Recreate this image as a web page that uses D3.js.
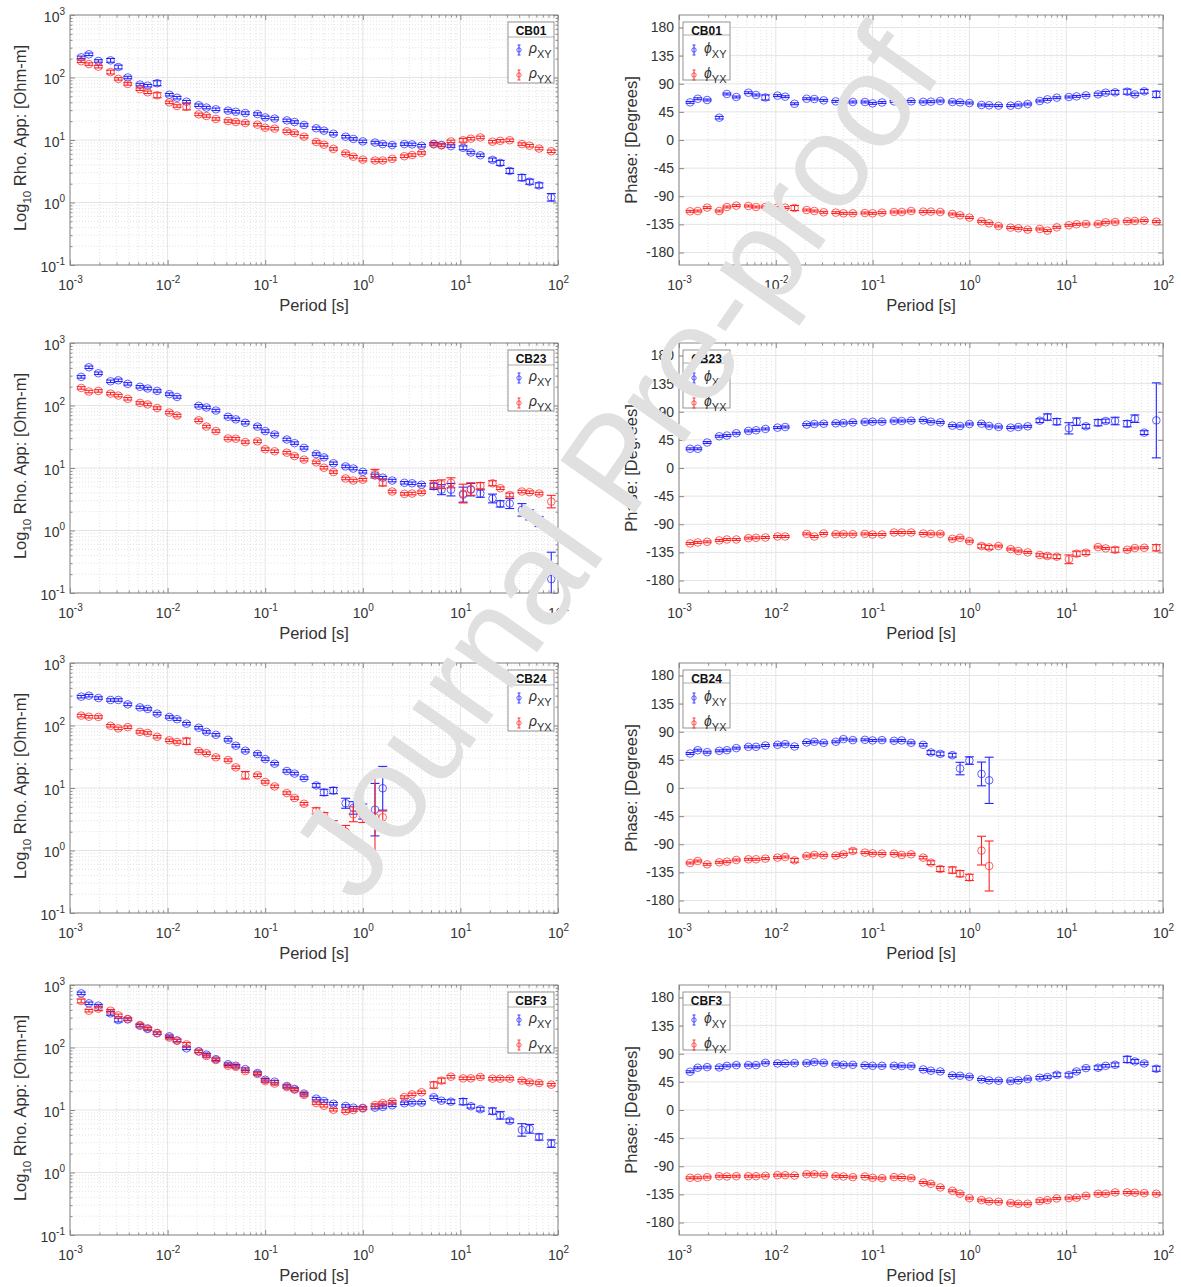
<!DOCTYPE html>
<html>
<head>
<meta charset="utf-8">
<script src="https://cdn.jsdelivr.net/npm/d3@7"></script>
<style>
body { margin: 0; background: #fff; }
svg { font-family: "Liberation Sans", Arial, Helvetica, sans-serif; }
</style>
</head>
<body>
<svg width="1181" height="1287"></svg>
<script>
// MT sounding curves, 4 stations: apparent resistivity (left) and phase (right)

var periods = [0.001302, 0.0015625, 0.001953, 0.002604, 0.003125, 0.003906, 0.005208, 0.00625, 0.0078125,
  0.010417, 0.0125, 0.015625, 0.020833, 0.025, 0.03125, 0.041667, 0.05, 0.0625, 0.083333,
  0.1, 0.125, 0.166667, 0.2, 0.25, 0.333333, 0.4, 0.5, 0.666667, 0.8,
  1, 1.333333, 1.6, 2, 2.666667, 3.2, 4, 5.333333, 6.4, 8,
  10.666667, 12.8, 16, 21.333333, 25.6, 32, 42.666667, 51.2, 64, 85.333333];

var xTickExps = [-3, -2, -1, 0, 1, 2];
var rhoTickExps = [-1, 0, 1, 2, 3];
var phaseTicks = [-180, -135, -90, -45, 0, 45, 90, 135, 180];
var minorMults = [2, 3, 4, 5, 6, 7, 8, 9];

// ---- CB01
var cb01RhoXY = [210,235,184,188,147,100,77,74,81,53, 47.5,41,36,33,31,29.5,28.3,27,26,23, 22,20.6,19.4,17.4,15.4,14.1,12.6,11.3,10.4,9.5, 9.1,8.6,8.3,8.6,8.5,8.1,8.7,8.3,8.0,7.5, 6.3,5.7,4.8,4.3,3.2,2.5,2.15,1.88,1.21];
var cb01RhoXYErr = [.02,.02,.02,.03,.03,.02,.02,.02,.04,.02, .02,.02,.02,.02,.02,.02,.02,.02,.02,.02, .02,.02,.02,.02,.02,.02,.02,.02,.02,.02, .02,.02,.02,.02,.02,.02,.02,.02,.02,.03, .02,.02,.03,.04,.04,.05,.04,.04,.06];
var cb01RhoYX = [182,164,149,122,95,79,65,58,52,40, 35,34,25.7,24.2,21.7,20.1,19.4,18.7,17.6,15.7, 15.2,13.8,12.9,11.3,9.3,8.4,7.2,6.1,5.4,4.85, 4.7,4.7,5.0,5.5,5.75,6.2,8.5,8.2,9.5,9.9, 10.5,11.0,9.4,9.7,9.9,8.6,8.1,7.3,6.6];
var cb01RhoYXErr = [.02,.02,.02,.03,.02,.02,.02,.02,.04,.02, .02,.05,.02,.02,.02,.02,.02,.02,.02,.02, .02,.02,.02,.02,.02,.02,.02,.02,.02,.02, .02,.02,.02,.02,.02,.02,.02,.02,.02,.03, .02,.02,.02,.02,.02,.02,.02,.02,.02];
var cb01PhiXY = [60.2,66,64,35.7,73.6,68.8,75.7,72,68,71, 69.3,58,66,65.6,63.4,61.8,60.8,60.8,60.8,58.6, 60,61.8,61.8,61.8,61,61.3,62.4,60.8,60.2,59.2, 56,55.5,55,55,56,57.6,62.4,65,67.7,68.8, 69.8,71.4,73,75.7,76.2,77.3,73,77.8,73];
var cb01PhiXYErr = [1.5,1.5,1.5,2,1.5,1.5,1.5,1.5,4,1.5, 1.5,1.5,1.5,1.5,1.5,1.5,1.5,1.5,1.5,1.5, 1.5,1.5,1.5,1.5,1.5,1.5,1.5,1.5,1.5,1.5, 1.5,1.5,1.5,1.5,1.5,1.5,1.5,1.5,1.5,1.5, 1.5,1.5,2,2,3,4,2,3,5];
var cb01PhiYX = [-114.1,-113.6,-108.2,-113.6,-107.2,-105,-105.6,-107.2,-107.2,-108.2, -108.2,-108.8,-112,-113.6,-115.7,-116.2,-117.3,-117.3,-116.8,-117.3, -116.2,-115.2,-115.2,-113.6,-114.6,-114.6,-115.2,-118.4,-120.5,-124.2, -130.1,-133.3,-137.6,-140.2,-141.3,-143.4,-142.4,-145,-139.7,-136.5, -134.9,-134.4,-134.4,-131.7,-131.2,-130.1,-129.6,-129,-130.6];
var cb01PhiYXErr = [1.5,1.5,1.5,1.5,1.5,1.5,1.5,1.5,1.5,1.5, 1.5,4,1.5,1.5,1.5,1.5,1.5,1.5,1.5,1.5, 1.5,1.5,1.5,1.5,1.5,1.5,1.5,1.5,1.5,1.5, 1.5,1.5,1.5,1.5,1.5,1.5,1.5,1.5,1.5,1.5, 1.5,1.5,1.5,1.5,1.5,1.5,1.5,1.5,1.5];

// ---- CB23
var cb23RhoXY = [287,409,328,244,253,222,199,187,171,152, 137,null,99,93,83,66,60,53,46,39, 34.4,28.6,25,21,16.7,14.8,11.9,10.6,9.8,8.7, 7.6,7.0,6.3,5.8,5.7,5.4,5.1,4.5,4.5,3.75, 4.5,3.9,3.25,2.67,2.7,2.14,1.78,1.39,0.167];
var cb23RhoXYErr = [.02,.02,.02,.02,.02,.02,.02,.02,.02,.02, .02,0,.02,.02,.02,.02,.02,.02,.02,.02, .02,.02,.02,.02,.02,.02,.02,.02,.02,.02, .02,.02,.02,.02,.02,.02,.05,.08,.1,.12, .1,.06,.07,.05,.08,.1,.08,.08,.43];
var cb23RhoYX = [191,167,171,155,144,128,110,104,91,77, 69,null,58,46,39,29.7,29.4,26,26.7,20, 18.5,17.6,15.5,13.6,12.3,10.1,8.6,6.8,6.3,6.5, 8.1,5.8,4.2,3.85,3.9,4.1,5.5,5.5,5.8,3.9, 4.6,5.2,5.7,4.75,3.7,4.2,4.1,3.9,2.9];
var cb23RhoYXErr = [.02,.02,.02,.02,.02,.02,.02,.02,.02,.02, .02,0,.02,.02,.02,.02,.02,.02,.02,.02, .02,.02,.02,.02,.02,.02,.02,.02,.02,.02, .07,.05,.02,.02,.02,.02,.06,.07,.08,.15, .1,.05,.04,.02,.03,.02,.02,.02,.1];
var cb23PhiXY = [30.7,30.7,40.8,50.8,51.9,55.6,59.3,60.4,62.5,64.6, 65.6,null,69.4,70.4,70.9,71.5,72,73,73.6,74.1, 74.1,75.2,75.2,75.7,76.2,74.1,73,67.8,67.2,70.4, 70.9,67.2,65.6,64.6,65.6,66.7,75.7,81.5,74.1,63.5, 74.1,66.7,72.5,75.2,75.2,70.9,78.9,56.6,76.2];
var cb23PhiXYErr = [1.5,1.5,1.5,1.5,1.5,1.5,1.5,1.5,1.5,1.5, 1.5,0,1.5,1.5,1.5,1.5,1.5,1.5,1.5,1.5, 1.5,1.5,1.5,1.5,1.5,1.5,1.5,1.5,1.5,1.5, 1.5,1.5,1.5,1.5,1.5,1.5,3,5,5,9, 6,3,5,3,6,5,6,3,60];
var cb23PhiYX = [-120.7,-119.1,-118.1,-115.9,-114.4,-114.4,-112.2,-111.7,-111.2,-109.6, -109.6,null,-105.4,-109.6,-104.8,-105.9,-105.9,-105.9,-105.4,-106.4, -106.4,-103.2,-103.2,-103.2,-104.8,-105.4,-105.4,-113.3,-111.7,-117, -124.9,-127.1,-124.9,-129.7,-132.9,-135,-139.2,-140.8,-141.9,-146.1, -137.1,-135.5,-126.5,-128.6,-130.8,-130.8,-128.1,-127.6,-127.6];
var cb23PhiYXErr = [1.5,1.5,1.5,1.5,1.5,1.5,1.5,1.5,1.5,1.5, 1.5,0,1.5,1.5,1.5,1.5,1.5,1.5,1.5,1.5, 1.5,1.5,1.5,1.5,1.5,1.5,1.5,1.5,1.5,1.5, 3,3,1.5,1.5,1.5,1.5,2,3,3,7, 4,3,1.5,1.5,4,1.5,1.5,1.5,5];

// ---- CB24 (ends at 1.6 s)
var cb24RhoXY = [289,300,275,256,256,218,195,184,155,137, 126,107,92,79,71,59,47.5,39.5,35,29, 24.5,18.7,17,14.4,11,8.5,9.1,5.7,4.8,4.2, 4.5,9.9];
var cb24RhoXYErr = [.02,.02,.02,.02,.02,.02,.02,.02,.02,.02, .02,.02,.02,.02,.02,.02,.02,.02,.02,.02, .02,.02,.02,.02,.03,.05,.05,.08,.1,.12, .42,.35];
var cb24RhoYX = [144,138,137,99,90,94,79,76,66,58, 54.5,56,39,36,31,28,21.4,16,16,12.5, 10.6,8.3,6.9,5.6,4.3,3.6,2.5,2.0,3.8,3.7, 3.4,3.4];
var cb24RhoYXErr = [.02,.02,.02,.02,.02,.02,.02,.02,.02,.02, .02,.05,.02,.02,.02,.02,.02,.06,.02,.02, .02,.02,.02,.02,.05,.05,.08,.1,.12,.12, .65,.1];
var cb24PhiXY = [55.2,60.5,57.3,59.5,60.5,63.8,65.9,65.9,68,69.1, 70.2,66.4,72.9,73.9,72.3,73.9,78.2,76.6,77.1,76.1, 76.6,75.5,76.1,72.3,69.1,56.8,54.6,52.5,31.1,43.9, 22.5,12.3];
var cb24PhiXYErr = [1.5,1.5,1.5,1.5,1.5,1.5,1.5,1.5,1.5,1.5, 1.5,1.5,1.5,1.5,1.5,1.5,1.5,1.5,1.5,1.5, 1.5,1.5,1.5,1.5,2,3,3,3,10,6, 19,37];
var cb24PhiYX = [-120,-116.8,-122.1,-118.9,-117.9,-115.2,-114.1,-114.1,-113,-111.4, -110.4,-115.7,-108.8,-107.1,-107.7,-108.2,-106.1,-100.7,-103.4,-104.5, -105,-105,-107.1,-106.1,-111.4,-119.5,-129.6,-131.3,-137.1,-143, -100.2,-124.8];
var cb24PhiYXErr = [1.5,1.5,1.5,1.5,1.5,1.5,1.5,1.5,1.5,1.5, 1.5,3,1.5,1.5,1.5,1.5,1.5,3,1.5,1.5, 1.5,1.5,1.5,1.5,2,3,4,5,5,5, 23,40];

// ---- CBF3
var cbf3RhoXY = [735,509,467,352,275,282,223,198,169,151, 130,97,87,77,65,54,51,45,39,30.5, 28.4,24.2,21.7,18.3,15.2,13.9,12.6,11.6,10.9,10.8, 10.9,11.2,11.9,12.8,13.1,13.1,16,14.1,13.6,13.6, 11.5,10.3,9.6,8.2,6.7,4.8,5.0,3.7,2.9];
var cbf3RhoXYErr = [.02,.02,.02,.03,.03,.02,.02,.02,.02,.02, .02,.02,.02,.02,.02,.02,.02,.02,.02,.02, .02,.02,.02,.02,.02,.02,.02,.02,.02,.02, .02,.02,.02,.02,.02,.02,.02,.02,.03,.05, .03,.03,.05,.06,.03,.1,.07,.05,.06];
var cbf3RhoYX = [555,388,418,388,327,286,229,203,171,144, 128,112,86,73,63,51,49,42,37.7,29, 26.4,23.3,21.1,17.4,12.9,11.7,10.1,9.6,10,10.6, 12,12.9,13.6,16.1,17.8,19.2,25.1,29.5,34.1,32.1, 32.1,33.7,31.7,31.7,31.7,29.5,27.7,27,25.4];
var cbf3RhoYXErr = [.03,.02,.03,.02,.02,.02,.02,.02,.02,.02, .02,.03,.02,.02,.02,.02,.02,.02,.02,.02, .02,.02,.02,.02,.02,.02,.02,.02,.02,.02, .02,.02,.02,.02,.02,.02,.05,.04,.02,.02, .02,.02,.02,.02,.02,.02,.02,.02,.02];
var cbf3PhiXY = [61.2,67.6,68.6,68.1,70.7,71.8,71.8,71.8,75.5,74.5, 74.5,75,75,76.6,75.5,73.4,72.3,72.3,71.3,70.7, 70.7,70.7,70.2,70.2,64.9,62.8,61.7,55.3,54.8,53.2, 48.9,47.3,46.8,46.3,47.3,49.5,51.6,52.7,56.4,55.9, 61.7,67,67.6,70.7,72.3,80.9,77.7,74.5,66];
var cbf3PhiXYErr = [1.5,1.5,1.5,2,1.5,1.5,1.5,1.5,1.5,1.5, 1.5,1.5,1.5,1.5,1.5,1.5,1.5,1.5,1.5,1.5, 1.5,1.5,1.5,1.5,1.5,1.5,1.5,1.5,1.5,1.5, 1.5,1.5,1.5,1.5,1.5,1.5,2,2,3,3, 2,2,3,2,3,5,3,2,4];
var cbf3PhiYX = [-108.5,-108.5,-107.4,-105.9,-106.4,-105.9,-105.9,-105.9,-105.3,-104.3, -104.3,-104.8,-102.7,-102.7,-103.7,-105.9,-106.4,-107.4,-106.4,-108.5, -109,-107.4,-108,-109,-116,-118.1,-123.9,-129.3,-134,-141, -144.2,-146.3,-146.8,-148.9,-150,-150,-145.7,-144.2,-141.5,-141, -140.4,-137.2,-134,-134,-131.9,-131.9,-132.4,-133,-134];
var cbf3PhiYXErr = [1.5,1.5,1.5,1.5,1.5,1.5,1.5,1.5,1.5,1.5, 1.5,1.5,1.5,1.5,1.5,1.5,1.5,1.5,1.5,1.5, 1.5,1.5,1.5,1.5,1.5,1.5,1.5,1.5,1.5,1.5, 1.5,1.5,1.5,1.5,1.5,1.5,2,1.5,1.5,1.5, 1.5,1.5,1.5,1.5,1.5,1.5,1.5,1.5,1.5];

var stations = [
  {name: "CB01", rhoXY: cb01RhoXY, rhoXYErr: cb01RhoXYErr, rhoYX: cb01RhoYX, rhoYXErr: cb01RhoYXErr,
   phiXY: cb01PhiXY, phiXYErr: cb01PhiXYErr, phiYX: cb01PhiYX, phiYXErr: cb01PhiYXErr},
  {name: "CB23", rhoXY: cb23RhoXY, rhoXYErr: cb23RhoXYErr, rhoYX: cb23RhoYX, rhoYXErr: cb23RhoYXErr,
   phiXY: cb23PhiXY, phiXYErr: cb23PhiXYErr, phiYX: cb23PhiYX, phiYXErr: cb23PhiYXErr},
  {name: "CB24", rhoXY: cb24RhoXY, rhoXYErr: cb24RhoXYErr, rhoYX: cb24RhoYX, rhoYXErr: cb24RhoYXErr,
   phiXY: cb24PhiXY, phiXYErr: cb24PhiXYErr, phiYX: cb24PhiYX, phiYXErr: cb24PhiYXErr},
  {name: "CBF3", rhoXY: cbf3RhoXY, rhoXYErr: cbf3RhoXYErr, rhoYX: cbf3RhoYX, rhoYXErr: cbf3RhoYXErr,
   phiXY: cbf3PhiXY, phiXYErr: cbf3PhiXYErr, phiYX: cbf3PhiYX, phiYXErr: cbf3PhiYXErr}
];

var svg = d3.select("svg");
var rowTop = [15, 343, 663, 985],
    plotH = 250,
    rhoX = [70, 558],
    phiX = [679, 1163];
var blue = "#2424ff", red = "#ff2424";
var boxColor = "#8a8a8a", textColor = "#333";

function decadeMinors(exps) {
  var out = [];
  exps.slice(0, -1).forEach(function(e) {
    minorMults.forEach(function(m) { out.push(m * Math.pow(10, e)); });
  });
  return out;
}
var xMajor = xTickExps.map(function(e) { return Math.pow(10, e); });
var xMinor = decadeMinors(xTickExps);
var rhoMajor = rhoTickExps.map(function(e) { return Math.pow(10, e); });
var rhoMinor = decadeMinors(rhoTickExps);

function powLabel(sel) {
  sel.each(function(d) {
    var t = d3.select(this).text(null);
    t.append("tspan").text("10");
    t.append("tspan").attr("dy", -7).attr("font-size", 10).text(Math.round(Math.log10(d)));
  });
}

function styleAxis(g) {
  g.select(".domain").remove();
  g.selectAll(".tick line").attr("stroke", boxColor);
  g.attr("font-family", null).attr("font-size", 14);
  g.selectAll(".tick text").attr("fill", textColor);
}

var clipCount = 0;
function panel(x, y, top, yMajor, yMinor, yIsLog) {
  var x0 = x.range()[0], x1 = x.range()[1], bot = top + plotH;
  var g = svg.append("g");

  // grid
  g.selectAll(".xminor").data(xMinor).enter().append("line")
    .attr("x1", x).attr("x2", x).attr("y1", top).attr("y2", bot)
    .attr("stroke", "#d8d8d8").attr("stroke-width", 0.7).attr("stroke-dasharray", "1,2");
  if (yMinor) {
    g.selectAll(".yminor").data(yMinor).enter().append("line")
      .attr("x1", x0).attr("x2", x1).attr("y1", y).attr("y2", y)
      .attr("stroke", "#d8d8d8").attr("stroke-width", 0.7).attr("stroke-dasharray", "1,2");
  }
  g.selectAll(".xmajor").data(xMajor).enter().append("line")
    .attr("x1", x).attr("x2", x).attr("y1", top).attr("y2", bot)
    .attr("stroke", "#e4e4e4").attr("stroke-width", 1);
  g.selectAll(".ymajor").data(yMajor).enter().append("line")
    .attr("x1", x0).attr("x2", x1).attr("y1", y).attr("y2", y)
    .attr("stroke", "#e4e4e4").attr("stroke-width", 1);

  // axes, ticks inward on all four sides
  var xb = g.append("g").attr("transform", "translate(0," + bot + ")")
    .call(d3.axisBottom(x).tickValues(xMajor).tickSize(-5).tickFormat(function() { return ""; }))
    .call(styleAxis);
  xb.selectAll(".tick text").attr("y", 25).attr("dy", null).call(powLabel);
  g.append("g").attr("transform", "translate(0," + bot + ")")
    .call(d3.axisBottom(x).tickValues(xMinor).tickSize(-2.5).tickFormat(function() { return ""; }))
    .call(styleAxis);
  g.append("g").attr("transform", "translate(0," + top + ")")
    .call(d3.axisTop(x).tickValues(xMajor).tickSize(-5).tickFormat(function() { return ""; }))
    .call(styleAxis);
  g.append("g").attr("transform", "translate(0," + top + ")")
    .call(d3.axisTop(x).tickValues(xMinor).tickSize(-2.5).tickFormat(function() { return ""; }))
    .call(styleAxis);

  var yl = g.append("g").attr("transform", "translate(" + x0 + ",0)")
    .call(d3.axisLeft(y).tickValues(yMajor).tickSize(-5)
      .tickFormat(yIsLog ? function() { return ""; } : function(d) { return String(d); }))
    .call(styleAxis);
  yl.selectAll(".tick text").attr("x", -5);
  if (yIsLog) yl.selectAll(".tick text").attr("dy", "0.45em").call(powLabel);
  g.append("g").attr("transform", "translate(" + x1 + ",0)")
    .call(d3.axisRight(y).tickValues(yMajor).tickSize(-5).tickFormat(function() { return ""; }))
    .call(styleAxis);
  if (yMinor) {
    g.append("g").attr("transform", "translate(" + x0 + ",0)")
      .call(d3.axisLeft(y).tickValues(yMinor).tickSize(-2.5).tickFormat(function() { return ""; }))
      .call(styleAxis);
    g.append("g").attr("transform", "translate(" + x1 + ",0)")
      .call(d3.axisRight(y).tickValues(yMinor).tickSize(-2.5).tickFormat(function() { return ""; }))
      .call(styleAxis);
  }

  g.append("rect").attr("x", x0).attr("y", top).attr("width", x1 - x0).attr("height", plotH)
    .attr("fill", "none").attr("stroke", boxColor).attr("stroke-width", 1);

  // x label
  g.append("text").attr("x", (x0 + x1) / 2).attr("y", bot + 46)
    .attr("text-anchor", "middle").attr("font-size", 16.5).attr("fill", textColor)
    .text("Period [s]");

  var id = "clip" + (clipCount++);
  g.append("clipPath").attr("id", id).append("rect")
    .attr("x", x0).attr("y", top).attr("width", x1 - x0).attr("height", plotH);
  return g.append("g").attr("clip-path", "url(#" + id + ")");
}

function errSeries(layer, x, y, vals, errs, color, isLog) {
  var pts = [];
  vals.forEach(function(v, k) {
    if (v == null) return;
    var lo = isLog ? v / Math.pow(10, errs[k]) : v - errs[k];
    var hi = isLog ? v * Math.pow(10, errs[k]) : v + errs[k];
    pts.push({p: periods[k], v: v, lo: lo, hi: hi});
  });
  var s = layer.append("g").attr("stroke", color).attr("fill", "none");
  var pt = s.selectAll("g").data(pts).enter().append("g");
  pt.append("line")
    .attr("x1", function(d) { return x(d.p); }).attr("x2", function(d) { return x(d.p); })
    .attr("y1", function(d) { return y(d.lo); }).attr("y2", function(d) { return y(d.hi); })
    .attr("stroke-width", 1.1);
  [["lo"], ["hi"]].forEach(function(k) {
    pt.append("line")
      .attr("x1", function(d) { return x(d.p) - 4.5; }).attr("x2", function(d) { return x(d.p) + 4.5; })
      .attr("y1", function(d) { return y(d[k[0]]); }).attr("y2", function(d) { return y(d[k[0]]); })
      .attr("stroke-width", 1.1);
  });
  pt.append("circle")
    .attr("cx", function(d) { return x(d.p); }).attr("cy", function(d) { return y(d.v); })
    .attr("r", 3.8).attr("stroke-width", 0.9).attr("stroke-opacity", 0.8);
}

function legend(x0, top, w, h, sep, title, sym) {
  var g = svg.append("g");
  g.append("rect").attr("x", x0).attr("y", top + 7).attr("width", w).attr("height", h)
    .attr("fill", "#fff").attr("stroke", "#7a7a7a").attr("stroke-width", 0.8);
  g.append("line").attr("x1", x0).attr("x2", x0 + w).attr("y1", top + sep).attr("y2", top + sep)
    .attr("stroke", "#9a9a9a").attr("stroke-width", 0.8);
  g.append("text").attr("x", x0 + w / 2).attr("y", top + 19.5).attr("text-anchor", "middle")
    .attr("font-weight", "bold").attr("font-size", 12).attr("fill", "#111").text(title);
  [["XY", blue, 35], ["YX", red, 60]].forEach(function(e) {
    var cx = x0 + 11, cy = top + e[2];
    var ic = g.append("g").attr("stroke", e[1]).attr("fill", "none").attr("stroke-width", 0.9);
    ic.append("line").attr("x1", cx).attr("x2", cx).attr("y1", cy - 5).attr("y2", cy + 5);
    ic.append("line").attr("x1", cx - 1.5).attr("x2", cx + 1.5).attr("y1", cy - 5).attr("y2", cy - 5);
    ic.append("line").attr("x1", cx - 1.5).attr("x2", cx + 1.5).attr("y1", cy + 5).attr("y2", cy + 5);
    ic.append("circle").attr("cx", cx).attr("cy", cy).attr("r", 2.2).attr("stroke-opacity", 0.8);
    var t = g.append("text").attr("x", x0 + 21).attr("y", cy + 3).attr("font-size", 14).attr("fill", textColor);
    t.append("tspan").attr("font-style", "italic").text(sym);
    t.append("tspan").attr("dy", 5).attr("font-size", 11).text(e[0]);
  });
}

stations.forEach(function(st, i) {
  var top = rowTop[i];

  // apparent resistivity
  var xr = d3.scaleLog().domain([1e-3, 1e2]).range(rhoX);
  var yr = d3.scaleLog().domain([1e-1, 1e3]).range([top + plotH, top]);
  var lr = panel(xr, yr, top, rhoMajor, rhoMinor, true);
  errSeries(lr, xr, yr, st.rhoXY, st.rhoXYErr, blue, true);
  errSeries(lr, xr, yr, st.rhoYX, st.rhoYXErr, red, true);
  var ylab = svg.append("text")
    .attr("transform", "translate(26," + (top + plotH / 2 - 2) + ") rotate(-90)")
    .attr("text-anchor", "middle").attr("font-size", 16.5).attr("fill", textColor);
  ylab.append("tspan").text("Log");
  ylab.append("tspan").attr("dy", 5).attr("font-size", 11.5).text("10");
  ylab.append("tspan").attr("dy", -5).text(" Rho. App: [Ohm-m]");
  legend(508, top, 46, 61, 22, st.name, "\u03c1");

  // phase
  var xp = d3.scaleLog().domain([1e-3, 1e2]).range(phiX);
  var yp = d3.scaleLinear().domain([-200, 200]).range([top + plotH, top]);
  var lp = panel(xp, yp, top, phaseTicks, null, false);
  errSeries(lp, xp, yp, st.phiXY, st.phiXYErr, blue, false);
  errSeries(lp, xp, yp, st.phiYX, st.phiYXErr, red, false);
  svg.append("text")
    .attr("transform", "translate(637," + (top + plotH / 2) + ") rotate(-90)")
    .attr("text-anchor", "middle").attr("font-size", 16.5).attr("fill", textColor)
    .text("Phase: [Degrees]");
  legend(683, top, 47, 58, 20, st.name, "\u03d5");
});

// watermark
svg.append("text")
  .attr("transform", "translate(614,462) rotate(-55)")
  .attr("text-anchor", "middle").attr("dy", "0.35em")
  .attr("font-size", 132).attr("fill", "#e0e0e0")
  .text("Journal Pre-proof");
</script>
</body>
</html>
